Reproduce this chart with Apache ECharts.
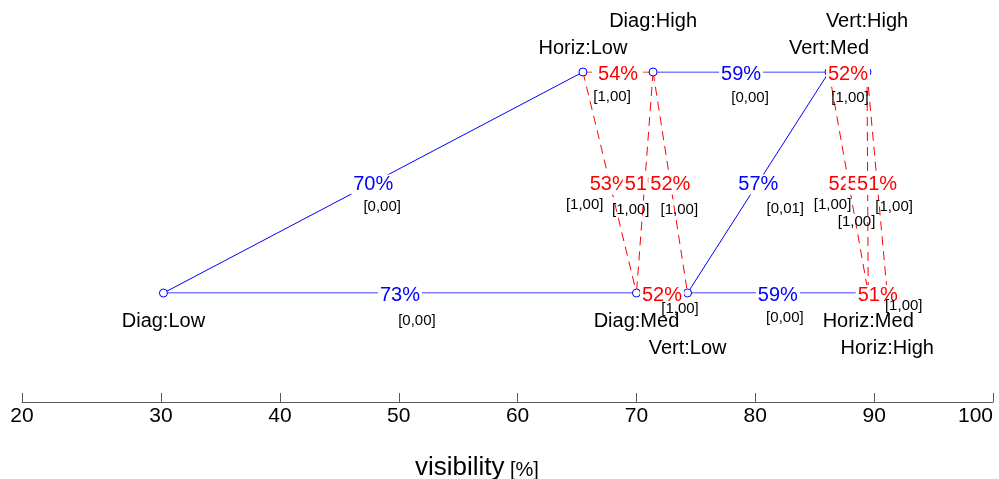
<!DOCTYPE html>
<html><head><meta charset="utf-8">
<script src="https://cdn.jsdelivr.net/npm/echarts@6/dist/echarts.min.js"></script>
<style>html,body{margin:0;padding:0;background:#fff}#c{width:999px;height:479px}</style>
</head><body><div id="c"></div>
<script>
// ---------------- data ----------------
const nodeNames      = ['Diag:Low','Horiz:Low','Diag:High','Vert:Med','Vert:High','Diag:Med','Vert:Low','Horiz:Med','Horiz:High'];
const nodeVisibility = [30.2, 65.5, 71.4, 86.2, 89.4, 70.0, 74.3, 89.5, 91.1];
const nodeGroup      = [0, 1, 1, 1, 1, 0, 0, 0, 0]; // 1 = upper group, 0 = lower group

const edgeFrom    = ['Diag:Low','Diag:Low','Horiz:Low','Horiz:Low','Diag:High','Diag:High','Diag:Med','Diag:High','Vert:Low','Vert:Low','Vert:Med','Vert:Med','Vert:High','Vert:High','Horiz:Med'];
const edgeTo      = ['Horiz:Low','Diag:Med','Diag:High','Diag:Med','Diag:Med','Vert:Low','Vert:Low','Vert:Med','Vert:Med','Horiz:Med','Vert:High','Horiz:Med','Horiz:Med','Horiz:High','Horiz:High'];
const edgePercent = [70, 73, 54, 53, 51, 52, 52, 59, 57, 59, 52, 52, 51, 51, 51];
const edgePValue  = ['0,00','0,00','1,00','1,00','1,00','1,00','1,00','0,00','0,01','0,00','1,00','1,00','1,00','1,00','1,00'];
const edgeSignif  = [true, true, false, false, false, false, false, true, true, true, false, false, false, false, false];

const tickValues = [18.3, 30, 40, 50, 60, 70, 80, 90, 100];
const tickLabels = ['20','30','40','50','60','70','80','90','100'];
const axisTitle = 'visibility';
const axisUnit = '[%]';

// ---------------- layout (not data) ----------------
const pLabelOffset = [[9,22],[17,26],[-6,23],[-25,20],[-14,25],[9,25],[18,14],[9,24],[27,24],[7,23],[2,24],[-16,20],[-11,37],[17,22],[26,11]];
const FONT = '"Liberation Sans", Arial, Helvetica, sans-serif';
const BLUE = '#0000ff', RED = '#ff0000';

const chart = echarts.init(document.getElementById('c'), null, {renderer: 'canvas'});
const idx = n => nodeNames.indexOf(n);
const nodePoint = i => [nodeVisibility[i], nodeGroup[i]];
const midPoint = k => {
  const a = nodePoint(idx(edgeFrom[k])), b = nodePoint(idx(edgeTo[k]));
  return [(a[0] + b[0]) / 2, (a[1] + b[1]) / 2];
};

const edgeSeries = edgeFrom.map((f, k) => ({
  type: 'line', silent: true, z: 2, symbol: 'none', animation: false,
  data: [nodePoint(idx(f)), nodePoint(idx(edgeTo[k]))],
  lineStyle: {color: edgeSignif[k] ? BLUE : RED, width: 1, opacity: 1, type: edgeSignif[k] ? 'solid' : [9, 6]}
}));
const hidden = {color: 'transparent', opacity: 1};

const baseOption = {
  animation: false,
  backgroundColor: '#fff',
  grid: {left: 22, right: 6, top: 72, bottom: 186, containLabel: false, outerBoundsMode: 'none'},
  xAxis: {
    type: 'value', min: tickValues[0], max: tickValues[tickValues.length - 1], offset: 109,
    axisLine: {onZero: false, lineStyle: {color: '#5a5a5a', width: 1}},
    axisTick: {inside: true, length: 9, interval: 0, customValues: tickValues, lineStyle: {color: '#5a5a5a'}},
    axisLabel: {customValues: tickValues, interval: 0, margin: 4, fontSize: 21, color: '#000', fontFamily: FONT,
      alignMaxLabel: 'right',
      formatter: v => { const i = tickValues.findIndex(t => Math.abs(t - v) < 1e-6); return i >= 0 ? tickLabels[i] : ''; }},
    splitLine: {show: false}
  },
  yAxis: {type: 'value', min: 0, max: 1, show: false},
  graphic: [
    {type: 'text', left: 415, top: 455, style: {text: axisTitle, fontSize: 26, fontFamily: FONT, fill: '#000'}},
    {type: 'text', left: 510, top: 460, style: {text: axisUnit, fontSize: 20, fontFamily: FONT, fill: '#000'}}
  ],
  series: edgeSeries.concat([
    {type: 'scatter', name: 'nodes', z: 3, silent: true, symbol: 'circle', symbolSize: 8,
     itemStyle: {color: '#fff', borderColor: BLUE, borderWidth: 1, opacity: 1},
     data: nodeNames.map((n, i) => nodePoint(i))},
    {type: 'scatter', name: 'pct', z: 4, silent: true, symbolSize: 1, itemStyle: hidden,
     data: edgeFrom.map((f, k) => ({value: midPoint(k),
       label: {show: true, position: 'inside', formatter: edgePercent[k] + '%', color: edgeSignif[k] ? BLUE : RED,
               fontSize: 20, fontFamily: FONT, backgroundColor: '#fff', padding: [0, 2], offset: [0, 2]}}))},
    {type: 'scatter', name: 'pval', z: 5, silent: true, symbolSize: 1, itemStyle: hidden,
     data: edgeFrom.map((f, k) => ({value: midPoint(k),
       label: {show: true, position: 'inside', formatter: '[' + edgePValue[k] + ']', color: '#000',
               fontSize: 15, fontFamily: FONT, offset: [pLabelOffset[k][0], pLabelOffset[k][1] + 2]}}))}
  ])
};
chart.setOption(baseOption);

// node name labels staggered in tiers to avoid overlap
const ctx = document.createElement('canvas').getContext('2d');
ctx.font = '20px ' + FONT;
const tierOf = new Array(nodeNames.length).fill(0);
[0, 1].forEach(g => {
  const ids = nodeNames.map((n, i) => i).filter(i => nodeGroup[i] === g)
    .sort((a, b) => nodeVisibility[a] - nodeVisibility[b]);
  const rights = [];
  ids.forEach(i => {
    const px = chart.convertToPixel({xAxisIndex: 0}, nodeVisibility[i]);
    const w = ctx.measureText(nodeNames[i]).width;
    let t = 0;
    while (rights[t] !== undefined && px - w / 2 < rights[t] + 2) t++;
    rights[t] = px + w / 2;
    tierOf[i] = t;
  });
});
chart.setOption({series: baseOption.series.concat([
  {type: 'scatter', name: 'names', z: 6, silent: true, symbolSize: 1, itemStyle: hidden,
   data: nodeNames.map((n, i) => ({value: nodePoint(i),
     label: {show: true, position: 'inside', formatter: n, color: '#000', fontSize: 20, fontFamily: FONT,
             offset: [0, nodeGroup[i] === 1 ? -(24 + 27 * tierOf[i]) : (28 + 27 * tierOf[i])]}}))}
])});
</script></body></html>
